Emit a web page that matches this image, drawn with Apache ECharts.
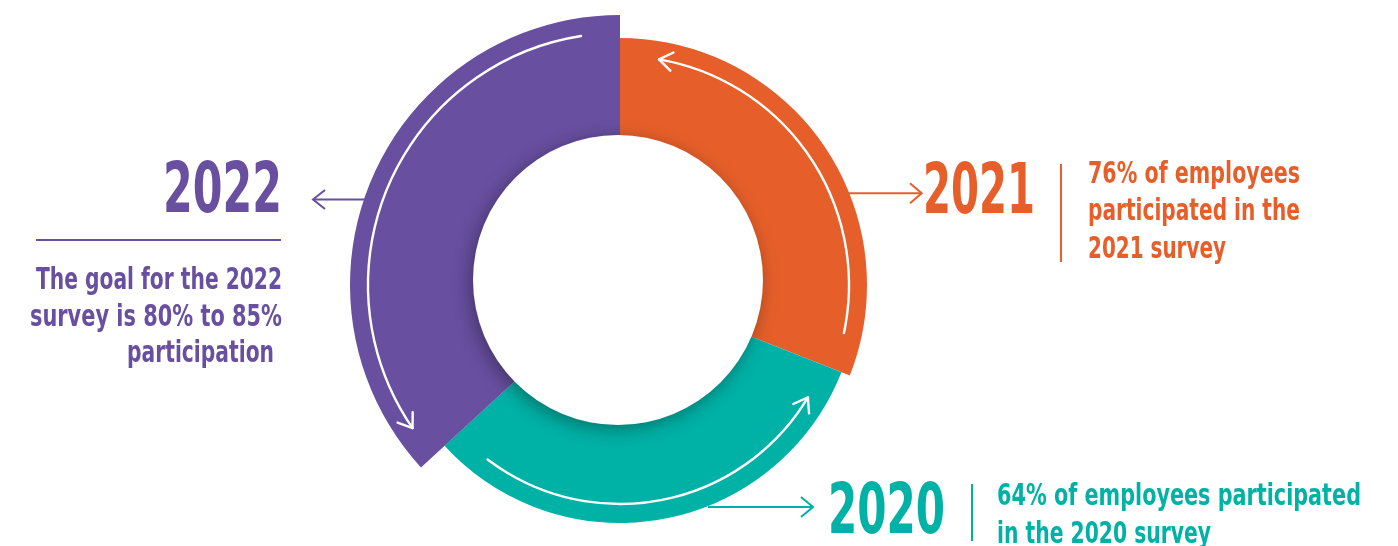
<!DOCTYPE html>
<html><head><meta charset="utf-8">
<script src="https://cdn.jsdelivr.net/npm/echarts@6/dist/echarts.min.js"></script>
<style>html,body{margin:0;padding:0;background:#fff}#c{width:1398px;height:546px}</style>
</head><body><div id="c"></div>
<script>
// ---- data ----
const years = ['2021', '2020', '2022'];
const sweepDeg = [111.5, 116, 132.5];      // angular share of each ring segment (clockwise from 12 o'clock)
const outerRadius = [247, 238, 270];        // each segment's outer radius (px)
const colors = ['#E65F2A', '#00B1A6', '#684FA0'];
const caption2022 = ['The goal for the 2022', 'survey is 80% to 85%', 'participation'];
const caption2021 = ['76% of employees', 'participated in the', '2021 survey'];
const caption2020 = ['64% of employees participated', 'in the 2020 survey'];

// ---- layout ----
const CX = 620, CY = 285;
const FAMILY = "'Liberation Sans Narrow','Arial Narrow','DejaVu Sans Condensed',sans-serif";
const mctx = document.createElement('canvas').getContext('2d');
function fitScale(text, font, width) { mctx.font = font; return width / mctx.measureText(text).width; }
function textEl(text, x, y, align, size, color, width) {
  const font = 'bold ' + size + 'px ' + FAMILY;
  return { type: 'text', x: x, y: y, scaleX: fitScale(text, font, width), z: 20, silent: true,
    style: { text: text, font: font, fill: color, textAlign: align, textVerticalAlign: 'middle', align: align, verticalAlign: 'middle' } };
}
function seg(points, color, w) {
  return { type: 'polyline', z: 20, silent: true, shape: { points: points },
    style: { stroke: color, lineWidth: w || 2, fill: 'none', lineCap: 'butt', lineJoin: 'miter' } };
}
function ringArrow(r, a1, a2) {
  const t1 = a1 * Math.PI / 180, t2 = a2 * Math.PI / 180;
  const tip = [CX + r * Math.cos(t2), CY - r * Math.sin(t2)];
  const back = [Math.sin(t2), Math.cos(t2)];
  const L = 16, w = 35 * Math.PI / 180;
  const rot = (v, a) => [v[0] * Math.cos(a) - v[1] * Math.sin(a), v[0] * Math.sin(a) + v[1] * Math.cos(a)];
  const p1 = rot(back, w), p2 = rot(back, -w);
  const st = { stroke: '#fff', lineWidth: 2.4, fill: 'none', lineCap: 'round', lineJoin: 'round' };
  return [
    { type: 'arc', z: 15, silent: true, shape: { cx: CX, cy: CY, r: r, startAngle: -t2, endAngle: -t1, clockwise: true }, style: st },
    { type: 'polyline', z: 15, silent: true, shape: { points: [[tip[0] + L * p1[0], tip[1] + L * p1[1]], tip, [tip[0] + L * p2[0], tip[1] + L * p2[1]]] }, style: st }
  ];
}

const series = years.map((y, i) => ({
  type: 'pie', silent: true, animation: false, z: 2,
  center: [CX, CY], radius: [110, outerRadius[i]],
  startAngle: 90, clockwise: true,
  label: { show: false }, labelLine: { show: false }, emphasis: { disabled: true },
  itemStyle: { borderWidth: 0 },
  data: years.map((n, j) => ({ name: n, value: sweepDeg[j],
    itemStyle: { color: j === i ? colors[j] : 'rgba(0,0,0,0)' } }))
}));
series.push({
  type: 'pie', silent: true, animation: false, z: 4,
  center: [618, 280], radius: [0, 145],
  label: { show: false }, labelLine: { show: false }, emphasis: { disabled: true },
  data: [{ name: 'hole', value: 1, itemStyle: { color: '#ffffff', borderWidth: 0,
    shadowBlur: 18, shadowColor: 'rgba(0,0,0,0.35)', shadowOffsetX: -3, shadowOffsetY: 4 } }]
});

const P = colors[2], O = colors[0], T = colors[1];
const graphics = [].concat(
  ringArrow(252, 98.9, 214.6),
  ringArrow(229, -12.1, 80.2),
  ringArrow(219, 232.8, 329.1),
  [
    // 2022 block
    textEl(years[2], 282, 194, 'right', 70, P, 119),
    seg([[365, 199.5], [313, 199.5]], P),
    seg([[325, 190], [313, 199.5], [325, 209]], P),
    seg([[36, 240], [281, 240]], P),
    textEl(caption2022[0], 282, 281, 'right', 31, P, 246),
    textEl(caption2022[1], 282, 317.5, 'right', 31, P, 252),
    textEl(caption2022[2], 274, 354, 'right', 31, P, 147),
    // 2021 block
    seg([[848, 193.3], [921, 193.3]], O),
    seg([[910, 183.3], [921.7, 193.3], [910, 203.3]], O),
    textEl(years[0], 923, 194.5, 'left', 70, O, 112),
    seg([[1061, 164], [1061, 262]], O),
    textEl(caption2021[0], 1088, 174.5, 'left', 31, O, 212),
    textEl(caption2021[1], 1088, 212, 'left', 31, O, 212),
    textEl(caption2021[2], 1088, 249.5, 'left', 31, O, 138),
    // 2020 block
    seg([[708, 507], [812, 507]], T),
    seg([[801, 497], [813, 507], [801, 517]], T),
    textEl(years[1], 828, 515, 'left', 70, T, 117),
    seg([[972, 484], [972, 541]], T),
    textEl(caption2020[0], 997, 497, 'left', 31, T, 364),
    textEl(caption2020[1], 997, 534.5, 'left', 31, T, 214)
  ]
);

const chart = echarts.init(document.getElementById('c'), null, { renderer: 'canvas' });
chart.setOption({ animation: false, backgroundColor: '#fff', series: series, graphic: { elements: graphics } });
</script></body></html>
